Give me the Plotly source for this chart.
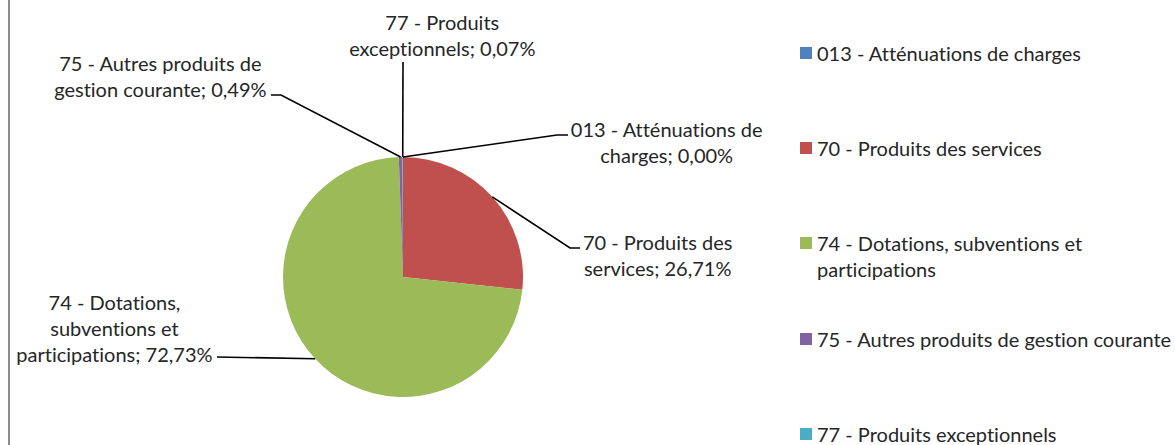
import math
import plotly.graph_objects as go

# ---- data ----
categories = [
    "013 - Atténuations de charges",
    "70 - Produits des services",
    "74 - Dotations, subventions et participations",
    "75 - Autres produits de gestion courante",
    "77 - Produits exceptionnels",
]
values = [0.00, 26.71, 72.73, 0.49, 0.07]
pct_labels = ["0,00%", "26,71%", "72,73%", "0,49%", "0,07%"]
label_texts = [
    "013 - Atténuations de<br>charges; 0,00%",
    "70 - Produits des<br>services; 26,71%",
    "74 - Dotations,<br>subventions et<br>participations; 72,73%",
    "75 - Autres produits de<br>gestion courante; 0,49%",
    "77 - Produits<br>exceptionnels; 0,07%",
]
legend_texts = [
    "013 - Atténuations de charges",
    "70 - Produits des services",
    "74 - Dotations, subventions et<br>participations",
    "75 - Autres produits de gestion courante",
    "77 - Produits exceptionnels",
]
colors = ["#4F81BD", "#C0504D", "#9BBB59", "#8064A2", "#4BACC6"]

# ---- layout constants (pixels) ----
W, H = 1175, 445
CX, CY, R = 403, 277, 120
FONT = "Lato"
FS = 20
TXT = "#262626"

def px(x):
    return x / W

def py(y):
    return 1 - y / H

fig = go.Figure()
fig.add_trace(go.Pie(
    labels=categories,
    values=values,
    sort=False,
    direction="clockwise",
    rotation=0,
    marker=dict(colors=colors, line=dict(width=0)),
    textinfo="none",
    hoverinfo="label+percent",
    showlegend=False,
    domain=dict(x=[px(CX - R), px(CX + R)], y=[py(CY + R), py(CY - R)]),
))

# anchor points on the pie edge at each slice's mid-angle
total = sum(values)
anchors = []
cum = 0
for v in values:
    a = 2 * math.pi * (cum + v / 2) / total
    anchors.append((CX + R * math.sin(a), CY - R * math.cos(a)))
    cum += v

# leader-line elbows / ends and label positions (pixels)
leader_paths = [
    [(557, 135), (568, 135)],    # 013
    [(570, 248), (580, 248)],    # 70
    [(217, 357)],                # 74
    [(281, 95), (271, 95)],      # 75
    [(403, 62)],                 # 77
]
label_pos = [
    (666, 142),
    (657, 255),
    (114, 328),
    (160, 76),
    (442, 35),
]

shapes = []
annotations = []
for i in range(len(values)):
    pts = [anchors[i]] + leader_paths[i]
    path = "M " + " L ".join(f"{px(x):.5f},{py(y):.5f}" for x, y in pts)
    shapes.append(dict(type="path", xref="paper", yref="paper", path=path,
                       line=dict(color="black", width=1.6)))
    x, y = label_pos[i]
    annotations.append(dict(x=px(x), y=py(y), xref="paper", yref="paper",
                            text=label_texts[i], showarrow=False,
                            xanchor="center", yanchor="middle", align="center",
                            font=dict(family=FONT, size=FS, color=TXT)))

# legend (manual)
legend_y = [53, 148, 256, 339, 434]
for i in range(len(values)):
    y = legend_y[i]
    sq_y = y if i != 2 else 243
    shapes.append(dict(type="rect", xref="paper", yref="paper",
                       x0=px(800), x1=px(812), y0=py(sq_y + 6), y1=py(sq_y - 6),
                       fillcolor=colors[i], line=dict(width=0)))
    annotations.append(dict(x=px(815), y=py(y), xref="paper", yref="paper",
                            text=legend_texts[i], showarrow=False,
                            xanchor="left", yanchor="middle", align="left",
                            font=dict(family=FONT, size=FS, color=TXT)))

# left border
shapes.append(dict(type="line", xref="paper", yref="paper",
                   x0=px(9), x1=px(9), y0=0, y1=1,
                   line=dict(color="#8C8C8C", width=2)))

fig.update_layout(
    width=W, height=H,
    margin=dict(l=0, r=0, t=0, b=0),
    paper_bgcolor="white", plot_bgcolor="white",
    shapes=shapes, annotations=annotations,
    showlegend=False,
)

fig.write_html(
    "out.html",
    config={"displayModeBar": False},
    post_script=(
        "document.body.style.margin='0px';"
        "var s=document.createElement('style');"
        "s.textContent='text{font-variant-ligatures:none !important;}';"
        "document.head.appendChild(s);"
    ),
)
